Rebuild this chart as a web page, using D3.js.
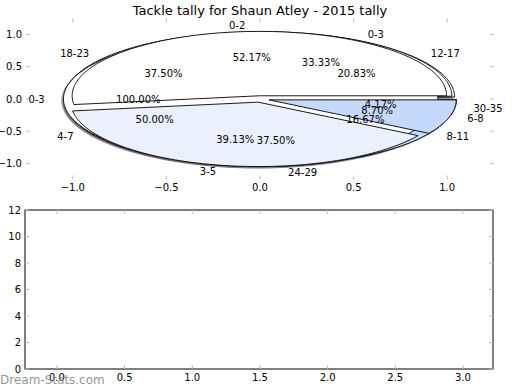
<!DOCTYPE html>
<html>
<head>
<meta charset="utf-8">
<script src="https://cdn.jsdelivr.net/npm/d3@7"></script>
<style>
  body { margin: 0; background: #fff; }
  svg { display: block; font-family: "DejaVu Sans", sans-serif; }
</style>
</head>
<body>
<div id="chart"></div>
<script>
(function () {
  // pies, listed bottom to top (the last one is drawn on top)
  const labelsD = ["12-17", "18-23", "24-29", "30-35"];
  const valuesD = [5, 9, 9, 1];
  const labelsB = ["0-3", "4-7", "8-11"];
  const valuesB = [2, 3, 1];
  const labelsC = ["0-3"];
  const valuesC = [1];
  const labelsA = ["0-2", "3-5", "6-8"];
  const valuesA = [12, 9, 2];

  const pieTicks = [-1, -0.5, 0, 0.5, 1];
  const emptyXTicks = [0, 0.5, 1, 1.5, 2, 2.5, 3];
  const emptyYTicks = [0, 2, 4, 6, 8, 10, 12];

  const SLICE_COLORS = ["#ffffff", "#eaf1fd", "#c5d9fd", "#9fc0fa"];
  const EXPLODE = 0.05;
  const TICK_COLOR = "#bdbdbd";
  const FONT = 10;

  const width = 520, height = 390;
  const topBox = { left: 26, right: 494, top: 18.5, bottom: 179.5 };
  const botBox = { left: 25, right: 493, top: 210, bottom: 369 };

  const svg = d3.select("#chart").append("svg")
    .attr("width", width)
    .attr("height", height);

  // title
  svg.append("text")
    .attr("x", (topBox.left + topBox.right) / 2)
    .attr("y", 10)
    .attr("text-anchor", "middle")
    .attr("dominant-baseline", "central")
    .style("font-size", "13px")
    .text("Tackle tally for Shaun Atley - 2015 tally");

  // ---- top axes: the pies ----
  const x = d3.scaleLinear().domain([-1.25, 1.25]).range([topBox.left, topBox.right]);
  const y = d3.scaleLinear().domain([-1.25, 1.25]).range([topBox.bottom, topBox.top]);

  const fmt = d => d3.format(".1f")(d).replace("-", "\u2212");

  function drawTicks(g, xs, ys, xsc, ysc, box, xfmt, yfmt) {
    const tl = 4;
    xs.forEach(t => {
      const px = xsc(t);
      g.append("line").attr("x1", px).attr("x2", px).attr("y1", box.bottom).attr("y2", box.bottom - tl)
        .attr("stroke", TICK_COLOR);
      g.append("line").attr("x1", px).attr("x2", px).attr("y1", box.top).attr("y2", box.top + tl)
        .attr("stroke", TICK_COLOR);
      g.append("text").attr("x", px).attr("y", box.bottom + 8)
        .attr("text-anchor", "middle").attr("dominant-baseline", "central")
        .style("font-size", FONT + "px").text(xfmt(t));
    });
    ys.forEach(t => {
      const py = ysc(t);
      g.append("line").attr("x1", box.left).attr("x2", box.left + tl).attr("y1", py).attr("y2", py)
        .attr("stroke", TICK_COLOR);
      g.append("line").attr("x1", box.right).attr("x2", box.right - tl).attr("y1", py).attr("y2", py)
        .attr("stroke", TICK_COLOR);
      g.append("text").attr("x", box.left - 4).attr("y", py)
        .attr("text-anchor", "end").attr("dominant-baseline", "central")
        .style("font-size", FONT + "px").text(yfmt(t));
    });
  }

  const topG = svg.append("g");
  drawTicks(topG, pieTicks, pieTicks, x, y, topBox, fmt, fmt);

  const pies = [
    { labels: labelsD, values: valuesD },
    { labels: labelsB, values: valuesB },
    { labels: labelsC, values: valuesC },
    { labels: labelsA, values: valuesA }
  ];

  const pieLayout = d3.pie().sort(null).startAngle(0).endAngle(2 * Math.PI);
  const line = d3.line().x(d => x(d[0])).y(d => y(d[1]));

  // angles are counter-clockwise from 3 o'clock, like the original
  function wedgePath(slice) {
    const t0 = slice.startAngle, t1 = slice.endAngle;
    const mid = (t0 + t1) / 2;
    const cx = EXPLODE * Math.cos(mid), cy = EXPLODE * Math.sin(mid);
    const n = Math.max(2, Math.ceil((t1 - t0) / (Math.PI / 180)));
    const pts = [];
    const full = (t1 - t0) >= 2 * Math.PI - 1e-9;
    if (!full) pts.push([cx, cy]);
    for (let i = 0; i <= n; i++) {
      const t = t0 + (t1 - t0) * i / n;
      pts.push([cx + Math.cos(t), cy + Math.sin(t)]);
    }
    return line(pts) + "Z";
  }

  const slices = pies.map(p => {
    const total = d3.sum(p.values);
    return pieLayout(p.values).map((s, i) => ({
      ...s,
      label: p.labels[i],
      pct: s.value / total * 100,
      color: SLICE_COLORS[i % SLICE_COLORS.length]
    }));
  });

  const shadowG = topG.append("g");
  const wedgeG = topG.append("g");
  const textG = topG.append("g");

  slices.forEach(list => {
    list.forEach(s => {
      const c = d3.rgb(s.color);
      const shade = d3.rgb(c.r * 0.3, c.g * 0.3, c.b * 0.3);
      shadowG.append("path")
        .attr("d", wedgePath(s))
        .attr("transform", "translate(-1.8,1.4)")
        .attr("fill", shade)
        .attr("stroke", shade)
        .attr("opacity", 0.45);
    });
  });

  slices.forEach(list => {
    list.forEach(s => {
      wedgeG.append("path")
        .attr("d", wedgePath(s))
        .attr("fill", s.color)
        .attr("stroke", "#000")
        .attr("stroke-width", 0.9)
        .attr("stroke-linejoin", "round");
    });
  });

  slices.forEach(list => {
    list.forEach(s => {
      const mid = (s.startAngle + s.endAngle) / 2;
      const cx = EXPLODE * Math.cos(mid), cy = EXPLODE * Math.sin(mid);
      const lx = cx + 1.1 * Math.cos(mid), ly = cy + 1.1 * Math.sin(mid);
      textG.append("text")
        .attr("x", x(lx)).attr("y", y(ly))
        .attr("text-anchor", lx > 0 ? "start" : "end")
        .attr("dominant-baseline", "central")
        .style("font-size", FONT + "px")
        .text(s.label);
      const px = cx + 0.6 * Math.cos(mid), py = cy + 0.6 * Math.sin(mid);
      textG.append("text")
        .attr("x", x(px)).attr("y", y(py))
        .attr("text-anchor", "middle")
        .attr("dominant-baseline", "central")
        .style("font-size", FONT + "px")
        .text(s.pct.toFixed(2) + "%");
    });
  });

  // ---- bottom axes: empty ----
  const x2 = d3.scaleLinear().domain([-0.236, 3.222]).range([botBox.left, botBox.right]);
  const y2 = d3.scaleLinear().domain([0, 12]).range([botBox.bottom, botBox.top]);

  const botG = svg.append("g");
  botG.append("rect")
    .attr("x", botBox.left).attr("y", botBox.top)
    .attr("width", botBox.right - botBox.left)
    .attr("height", botBox.bottom - botBox.top)
    .attr("fill", "#fff")
    .attr("stroke", "#000")
    .attr("stroke-width", 1);
  drawTicks(botG, emptyXTicks, emptyYTicks, x2, y2, botBox, d => d3.format(".1f")(d), d => String(d));

  // watermark
  svg.append("text")
    .attr("x", 0)
    .attr("y", 380)
    .attr("dominant-baseline", "central")
    .style("font-size", "12px")
    .attr("fill", "#7f7f7f")
    .attr("fill-opacity", 0.85)
    .text("Dream-Stats.com");
})();
</script>
</body>
</html>
